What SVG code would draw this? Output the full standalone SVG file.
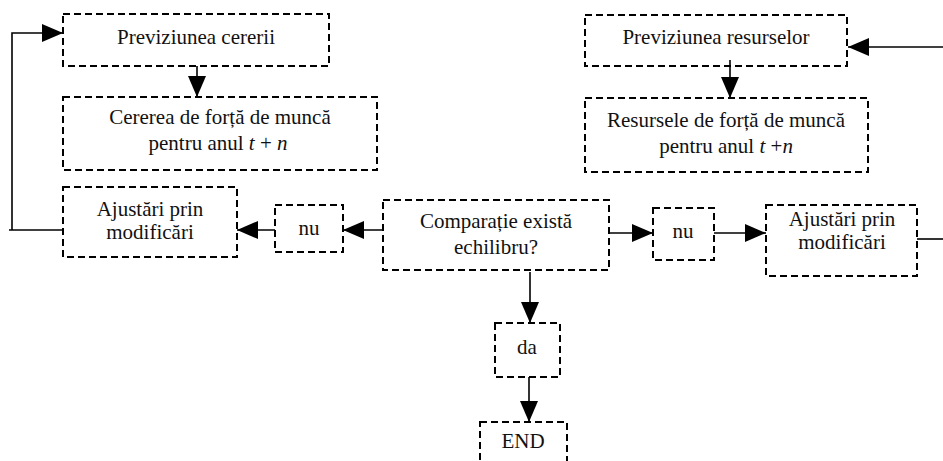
<svg xmlns="http://www.w3.org/2000/svg" width="943" height="461" viewBox="0 0 943 461">
<style>
.box{fill:none;stroke:#000;stroke-width:2;stroke-dasharray:7 4}
.t{font-family:'Liberation Serif','DejaVu Serif',serif;font-size:21px;fill:#111;text-anchor:middle}
.c{fill:none;stroke:#000;stroke-width:1.6}
</style>
<defs>
<marker id="ah" markerUnits="userSpaceOnUse" markerWidth="22" markerHeight="20" refX="21" refY="10" orient="auto">
<path d="M0,1 L21,10 L0,19 z" fill="#000"/>
</marker>
</defs>
<rect width="943" height="461" fill="#fff"/>
<g id="connectors">
<line class="c" x1="197" y1="66" x2="197" y2="97" marker-end="url(#ah)"/>
<line class="c" x1="730" y1="60" x2="730" y2="98" marker-end="url(#ah)"/>
<line class="c" x1="943" y1="47" x2="848" y2="47" marker-end="url(#ah)"/>
<polyline class="c" points="63,230 9,230"/>
<polyline class="c" points="12,230 12,33 63,33" marker-end="url(#ah)"/>
<line class="c" x1="383" y1="230" x2="343" y2="230" marker-end="url(#ah)"/>
<line class="c" x1="275" y1="230" x2="237" y2="230" marker-end="url(#ah)"/>
<line class="c" x1="609" y1="233" x2="653" y2="233" marker-end="url(#ah)"/>
<line class="c" x1="714" y1="233" x2="766" y2="233" marker-end="url(#ah)"/>
<line class="c" x1="917" y1="239" x2="943" y2="239"/>
<line class="c" x1="530" y1="272" x2="530" y2="323" marker-end="url(#ah)"/>
<line class="c" x1="529" y1="377" x2="529" y2="422" marker-end="url(#ah)"/>
</g>
<g id="n1"><rect class="box" x="63" y="14" width="266" height="52"/><text class="t" x="196" y="44">Previziunea cererii</text></g>
<g id="n2"><rect class="box" x="63" y="97" width="314" height="73"/><text class="t" x="220" y="124">Cererea de forță de muncă</text><text class="t" x="218" y="150">pentru anul <tspan font-style="italic">t</tspan> + <tspan font-style="italic">n</tspan></text></g>
<g id="n3"><rect class="box" x="585" y="15" width="262" height="51"/><text class="t" x="716" y="44">Previziunea resurselor</text></g>
<g id="n4"><rect class="box" x="585" y="98" width="283" height="74"/><text class="t" x="726" y="127">Resursele de forță de muncă</text><text class="t" x="726" y="153">pentru anul <tspan font-style="italic">t</tspan> +<tspan font-style="italic">n</tspan></text></g>
<g id="n5"><rect class="box" x="63" y="187" width="174" height="70"/><text class="t" x="150" y="216">Ajustări prin</text><text class="t" x="150" y="239">modificări</text></g>
<g id="n6"><rect class="box" x="275" y="205" width="68" height="47"/><text class="t" x="309" y="235">nu</text></g>
<g id="n7"><rect class="box" x="383" y="200" width="226" height="70"/><text class="t" x="496" y="228">Comparație există</text><text class="t" x="496" y="254">echilibru?</text></g>
<g id="n8"><rect class="box" x="653" y="208" width="61" height="52"/><text class="t" x="683" y="238">nu</text></g>
<g id="n9"><rect class="box" x="766" y="205" width="151" height="71"/><text class="t" x="842" y="226">Ajustări prin</text><text class="t" x="842" y="249">modificări</text></g>
<g id="n10"><rect class="box" x="495" y="323" width="65" height="54"/><text class="t" x="527" y="354">da</text></g>
<g id="n11"><rect class="box" x="480" y="422" width="87" height="42"/><text class="t" x="523" y="448">END</text></g>
</svg>
